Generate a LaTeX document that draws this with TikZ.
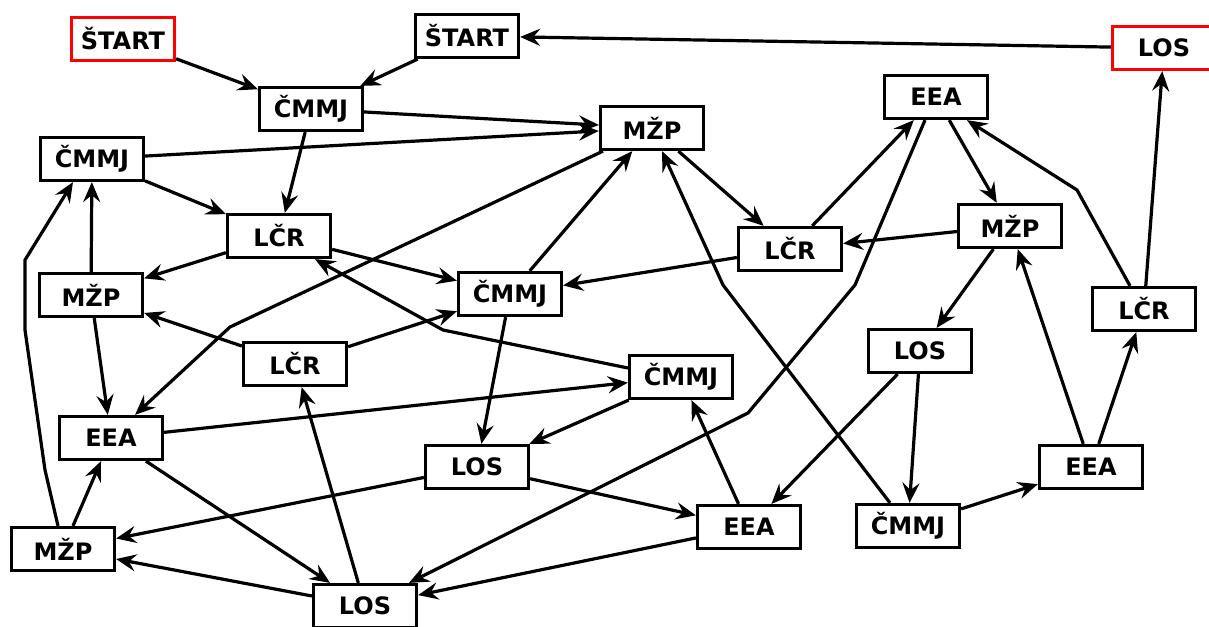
\documentclass[tikz,border=0pt]{standalone}
\usepackage{fontspec}
\setmainfont{DejaVu Sans}
\usetikzlibrary{arrows.meta}
\begin{document}
\begin{tikzpicture}[x=1pt,y=-1pt,
  box/.style={draw,line width=3.2pt,minimum width=103pt,minimum height=43pt,inner sep=0pt,
    font=\fontsize{24}{28}\selectfont\bfseries},
  redbox/.style={box,draw=red},
  arr/.style={line width=3.2pt,-{Stealth[length=20pt,width=17pt,inset=7pt]}}]
\useasboundingbox (0,0) rectangle (1209,626);
\node[redbox] (n1) at (123,39) {ŠTART};
\node[box] (n2) at (467,36) {ŠTART};
\node[redbox] (n3) at (1164,48) {LOS};
\node[box] (n4) at (311,109) {ČMMJ};
\node[box] (n5) at (652,128) {MŽP};
\node[box] (n6) at (936,97) {EEA};
\node[box] (n7) at (92,159) {ČMMJ};
\node[box] (n8) at (279,236) {LČR};
\node[box] (n9) at (1010,226) {MŽP};
\node[box] (n10) at (790,249) {LČR};
\node[box] (n11) at (91,295) {MŽP};
\node[box] (n12) at (510,294) {ČMMJ};
\node[box] (n13) at (1144,309) {LČR};
\node[box] (n14) at (920,351) {LOS};
\node[box] (n15) at (295,364) {LČR};
\node[box] (n16) at (681,377) {ČMMJ};
\node[box] (n17) at (111,438) {EEA};
\node[box] (n18) at (477,467) {LOS};
\node[box] (n19) at (1091,467) {EEA};
\node[box] (n20) at (749,527) {EEA};
\node[box] (n21) at (908,526) {ČMMJ};
\node[box] (n22) at (63,549) {MŽP};
\node[box] (n23) at (365,606) {LOS};
% straight connectors
\draw[arr] (n1) -- (n4);
\draw[arr] (n2) -- (n4);
\draw[arr] (n3) -- (n2);
\draw[arr] (n4) -- (n5);
\draw[arr] (n7) -- (n5);
\draw[arr] (n4) -- (n8);
\draw[arr] (n7) -- (n8);
\draw[arr] (n8) -- (n11);
\draw[arr] (n8) -- (n12);
\draw[arr] (n11) -- (n7);
\draw[arr] (n11) -- (n17);
\draw[arr] (n22) -- (n17);
\draw[arr] (n5) -- (n10);
\draw[arr] (n12) -- (n5);
\draw[arr] (n9) -- (n10);
\draw[arr] (n10) -- (n12);
\draw[arr] (n10) -- (n6);
\draw[arr] (n6) -- (n9);
\draw[arr] (n13) -- (n3);
\draw[arr] (n9) -- (n14);
\draw[arr] (n19) -- (n9);
\draw[arr] (n19) -- (n13);
\draw[arr] (n21) -- (n19);
\draw[arr] (n14) -- (n21);
\draw[arr] (n14) -- (n20);
\draw[arr] (n15) -- (n11);
\draw[arr] (n15) -- (n12);
\draw[arr] (n17) -- (n16);
\draw[arr] (n16) -- (n18);
\draw[arr] (n20) -- (n16);
\draw[arr] (n12) -- (n18);
\draw[arr] (n18) -- (n22);
\draw[arr] (n18) -- (n20);
\draw[arr] (n17) -- (n23);
\draw[arr] (n23) -- (n15);
\draw[arr] (n23) -- (n22);
\draw[arr] (n20) -- (n23);
% bent connectors
\draw[arr] ([xshift=-5pt]n22.north) -- (45,470) -- (25,330) -- (25,260) -- ([xshift=-19pt]n7.south);
\draw[arr] ([xshift=-49pt]n5.south) -- (230,327) -- ([xshift=24pt]n17.north);
\draw[arr] ([xshift=-11pt]n6.south) -- (855,285) -- (748,413) -- ([xshift=44pt]n23.north);
\draw[arr] ([xshift=-14pt]n13.north) -- (1077,190) -- ([xshift=31pt]n6.south);
\draw[arr] ([xshift=-18pt]n21.north) -- (723,285) -- ([xshift=10pt]n5.south);
\draw[arr] ([yshift=9pt]n16.west) -- (443,330) -- ([xshift=36pt]n8.south);
\end{tikzpicture}
\end{document}
